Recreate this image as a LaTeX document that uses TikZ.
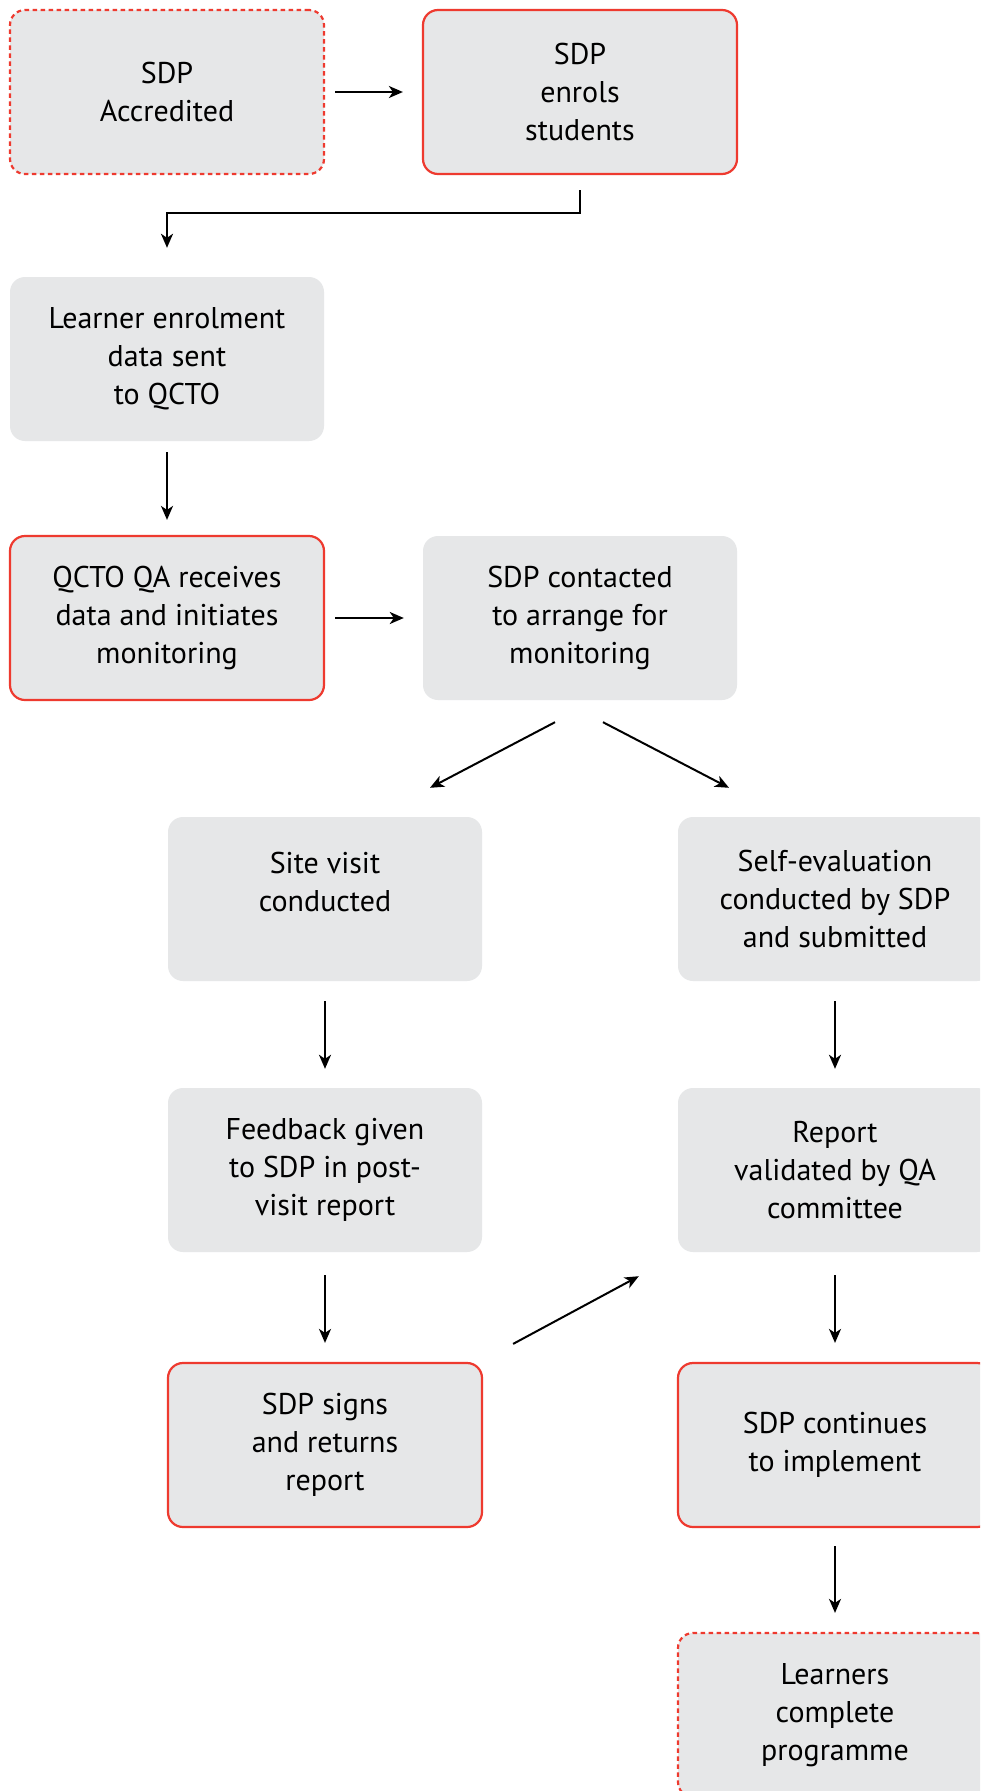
\documentclass[tikz,border=0pt]{standalone}
\usepackage{fontspec}
\setmainfont{PT Sans}
\usetikzlibrary{arrows.meta}
\definecolor{boxgray}{HTML}{E6E7E8}
\definecolor{boxred}{HTML}{EE3A2F}
\tikzset{
  box/.style={fill=boxgray, draw=none, rounded corners=15pt, minimum width=314pt, minimum height=164pt,
    inner sep=0pt, align=center, font=\fontsize{30}{38}\selectfont},
  redbox/.style={box, draw=boxred, line width=2.2pt},
  dashbox/.style={box, draw=boxred, line width=2.2pt, dash pattern=on 4.5pt off 3.5pt},
  arr/.style={line width=2pt, -{Stealth[length=14pt,width=12pt,inset=4pt]}}
}
\begin{document}
\begin{tikzpicture}[x=1pt,y=-1pt]
\clip (0,0) rectangle (980,1791);
\fill[white] (0,0) rectangle (980,1791);
\node[dashbox] (n1) at (167,92) {SDP\\Accredited};
\node[redbox] (n2) at (580,92) {SDP\\enrols\\students};
\node[box] (n3) at (167,359) {Learner enrolment\\data sent\\to QCTO};
\node[redbox] (n4) at (167,618) {QCTO QA receives\\data and initiates\\monitoring};
\node[box] (n5) at (580,618) {SDP contacted\\to arrange for\\monitoring};
\node[box] (n6) at (325,899) {Site visit\\conducted\\[-16pt]\strut};
\node[box] (n7) at (835,899) {Self-evaluation\\conducted by SDP\\and submitted};
\node[box] (n8) at (325,1170) {Feedback given\\to SDP in post-\\visit report};
\node[box] (n9) at (835,1170) {Report\\validated by QA\\committee};
\node[redbox] (n10) at (325,1445) {SDP signs\\and returns\\report};
\node[redbox] (n11) at (835,1445) {SDP continues\\to implement};
\node[dashbox] (n12) at (835,1715) {Learners\\complete\\programme};

\draw[arr, shorten <=10pt, shorten >=19pt] (n1.east) -- (n2.west);
\draw[arr, shorten <=15pt, shorten >=29pt] (n2.south) |- ([yshift=64pt]n3.north) -- (n3.north);
\draw[arr, shorten <=11pt, shorten >=15pt] (n3.south) -- (n4.north);
\draw[arr, shorten <=10pt, shorten >=19pt] (n4.east) -- (n5.west);
\draw[arr] ([xshift=-25pt,yshift=-22pt]n5.south) -- ([xshift=105pt,yshift=29pt]n6.north);
\draw[arr] ([xshift=23pt,yshift=-22pt]n5.south) -- ([xshift=-106pt,yshift=29pt]n7.north);
\draw[arr, shorten <=20pt, shorten >=19pt] (n6.south) -- (n8.north);
\draw[arr, shorten <=20pt, shorten >=19pt] (n7.south) -- (n9.north);
\draw[arr, shorten <=23pt, shorten >=19pt] (n8.south) -- (n10.north);
\draw[arr, shorten <=23pt, shorten >=19pt] (n9.south) -- (n11.north);
\draw[arr, shorten <=18pt, shorten >=19pt] (n11.south) -- (n12.north);
\draw[arr] ([xshift=30pt,yshift=18pt]n10.north east) -- ([xshift=-39pt,yshift=-24pt]n9.south west);
\end{tikzpicture}
\end{document}
